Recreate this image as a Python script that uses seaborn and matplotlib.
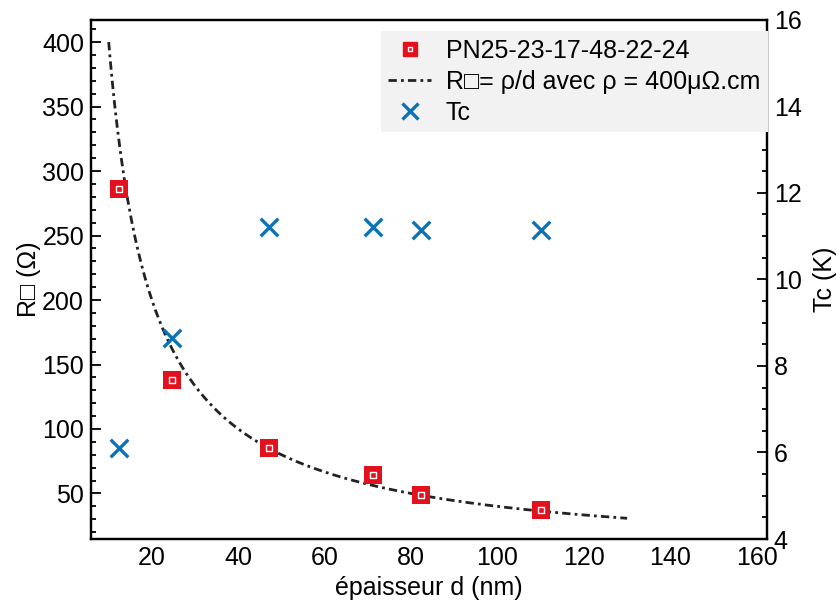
import numpy as np
import pandas as pd
import matplotlib
matplotlib.use("Agg")
import matplotlib.pyplot as plt
import seaborn as sns
from matplotlib.ticker import MultipleLocator
from matplotlib.lines import Line2D
from matplotlib.legend_handler import HandlerTuple

sns.set_theme(style="white")
plt.rcParams["font.family"] = ["Liberation Sans", "DejaVu Sans"]
plt.rcParams["font.size"] = 18
plt.rcParams["text.color"] = "black"
plt.rcParams["axes.labelcolor"] = "black"

# mesures
epaisseur = [12.5, 24.6, 47.1, 71.1, 82.3, 110.1]
r_carre = [286, 138, 85.5, 64.5, 48.5, 37.5]
tc = [6.10, 8.64, 11.21, 11.20, 11.13, 11.13]

# modele R = rho / d
rho = 400  # µOhm.cm
d_min, d_max = 10, 130

sample_label = "PN25-23-17-48-22-24"
fit_label = "R\u25a1= \u03c1/d avec \u03c1 = 400\u03bc\u03a9.cm"

red = "#e3101e"
blue = "#0b72b6"
fs = 18

df = pd.DataFrame({"d": epaisseur, "R": r_carre, "Tc": tc})
d_fit = np.linspace(d_min, d_max, 300)
fit = pd.DataFrame({"d": d_fit, "R": rho * 10 / d_fit})

fig, ax = plt.subplots(figsize=(8.37, 6.07), dpi=100)
fig.subplots_adjust(left=0.1087, right=0.916, bottom=0.112, top=0.9675)

dashdot = (0, (3.0, 1.5, 1.0, 1.5))
sns.lineplot(data=fit, x="d", y="R", ax=ax, color="#222222", lw=2.0,
             linestyle=dashdot, zorder=3)
sns.scatterplot(data=df, x="d", y="R", ax=ax, marker="s", s=150, color=red,
                edgecolor=red, linewidth=0, zorder=4)
sns.scatterplot(data=df, x="d", y="R", ax=ax, marker="s", s=14, color=red,
                edgecolor="white", linewidth=1.0, zorder=5)

ax2 = ax.twinx()
sns.scatterplot(data=df, x="d", y="Tc", ax=ax2, marker="x", s=160, color=blue,
                linewidth=2.4, zorder=4)

ax.set_xlim(5.9, 162.3)
ax.set_ylim(14.7, 417.3)
ax2.set_ylim(4, 16)

ax.xaxis.set_major_locator(MultipleLocator(20))
ax.xaxis.set_minor_locator(MultipleLocator(5))
ax.yaxis.set_major_locator(MultipleLocator(50))
ax.yaxis.set_minor_locator(MultipleLocator(10))
ax2.yaxis.set_major_locator(MultipleLocator(2))
ax2.yaxis.set_minor_locator(MultipleLocator(0.5))

ax.tick_params(which="both", direction="in", top=False, right=False,
               colors="black", labelsize=fs, width=1.3, pad=5)
ax.tick_params(which="major", length=7)
ax.tick_params(which="minor", length=3.5)
ax2.tick_params(which="both", direction="in", left=False, right=True,
                colors="black", labelsize=fs, width=1.3, pad=5)
ax2.tick_params(which="major", length=7)
ax2.tick_params(which="minor", length=3.5)

for a in (ax, ax2):
    for sp in a.spines.values():
        sp.set_color("black")
        sp.set_linewidth(1.6)

ax.set_xlabel("épaisseur d (nm)", fontsize=fs, labelpad=4)
ax.set_ylabel("R\u25a1 (\u03a9)", fontsize=fs, labelpad=1)
ax2.set_ylabel("Tc (K)", fontsize=fs, labelpad=8)

square_handle = (
    Line2D([], [], ls="none", marker="s", ms=10, mfc=red, mec=red),
    Line2D([], [], ls="none", marker="s", ms=3.5, mfc=red, mec="white", mew=1.0),
)
handles = [
    square_handle,
    Line2D([], [], color="#222222", lw=2.0, linestyle=dashdot),
    Line2D([], [], ls="none", marker="x", ms=12, mec=blue, mew=2.4),
]
leg = ax2.legend(handles, [sample_label, fit_label, "Tc"],
                 handler_map={tuple: HandlerTuple(ndivide=1, pad=0)},
                 loc="upper left", bbox_to_anchor=(0.429, 0.978),
                 frameon=True, fancybox=False, framealpha=1,
                 facecolor="#f2f2f2", edgecolor="none", fontsize=fs,
                 handlelength=1.7, handletextpad=0.6, borderpad=0.3,
                 labelspacing=0.28, borderaxespad=0)
leg.get_frame().set_linewidth(0)

fig.savefig("out.png", dpi=100)
